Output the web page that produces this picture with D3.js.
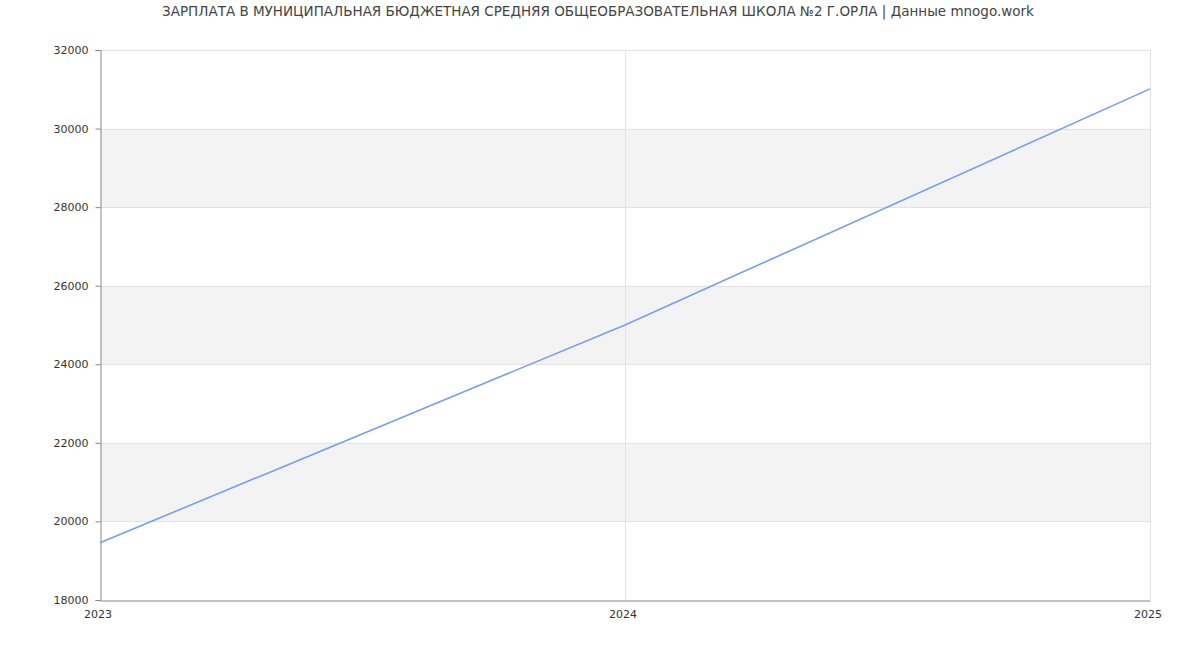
<!DOCTYPE html>
<html>
<head>
<meta charset="utf-8">
<script src="https://cdn.jsdelivr.net/npm/d3@7"></script>
<style>
  body { margin: 0; background: #fff; }
  svg { display: block; font-family: "DejaVu Sans", sans-serif; }
</style>
</head>
<body>
<svg id="chart" width="1200" height="650"></svg>
<script>
const titleText = "ЗАРПЛАТА В МУНИЦИПАЛЬНАЯ БЮДЖЕТНАЯ СРЕДНЯЯ ОБЩЕОБРАЗОВАТЕЛЬНАЯ ШКОЛА №2 Г.ОРЛА | Данные mnogo.work";
const years = [2023, 2024, 2025];
const salaries = [19460, 25000, 31010];
const yTicks = [18000, 20000, 22000, 24000, 26000, 28000, 30000, 32000];
const bands = [[20000, 22000], [24000, 26000], [28000, 30000]];

const svg = d3.select("#chart");
const m = { left: 100, right: 1150, top: 50, bottom: 600 };

const x = d3.scaleLinear().domain([2023, 2025]).range([m.left, m.right]);
const y = d3.scaleLinear().domain([18000, 32000]).range([m.bottom, m.top]);

svg.append("text")
  .attr("x", 598).attr("y", 16)
  .attr("text-anchor", "middle")
  .attr("font-size", 13.5)
  .attr("fill", "#444")
  .text(titleText);

// bands
svg.append("g").selectAll("rect").data(bands).join("rect")
  .attr("x", m.left).attr("width", m.right - m.left)
  .attr("y", d => y(d[1])).attr("height", d => y(d[0]) - y(d[1]))
  .attr("fill", "#f3f3f3");

// horizontal grid
svg.append("g").selectAll("line").data(yTicks.filter(t => t > 18000)).join("line")
  .attr("x1", m.left).attr("x2", m.right)
  .attr("y1", d => Math.round(y(d)) + 0.5).attr("y2", d => Math.round(y(d)) + 0.5)
  .attr("stroke", "#e3e3e3").attr("stroke-width", 1);

// vertical grid
svg.append("g").selectAll("line").data(years.slice(1)).join("line")
  .attr("x1", d => Math.round(x(d)) + 0.5).attr("x2", d => Math.round(x(d)) + 0.5)
  .attr("y1", m.top).attr("y2", m.bottom)
  .attr("stroke", "#e3e3e3").attr("stroke-width", 1);

// y axis
const yAxis = d3.axisLeft(y).tickValues(yTicks).tickSize(5).tickPadding(7).tickFormat(d3.format("d"));
const gy = svg.append("g").attr("transform", `translate(${m.left + 0.5},0)`).call(yAxis);
gy.select(".domain").attr("stroke", "#888");
gy.selectAll(".tick line").attr("stroke", "#888");
gy.selectAll(".tick text").attr("fill", "#333").attr("font-size", 11).attr("font-family", "DejaVu Sans, sans-serif");

// x axis
const xAxis = d3.axisBottom(x).tickValues(years).tickSize(0).tickPadding(10).tickFormat(d3.format("d"));
const gx = svg.append("g").attr("transform", `translate(0,${m.bottom + 0.5})`).call(xAxis);
gx.select(".domain").attr("stroke", "#888");
gx.selectAll(".tick text").attr("fill", "#333").attr("font-size", 11).attr("font-family", "DejaVu Sans, sans-serif");
gx.selectAll(".tick").attr("transform", d => `translate(${x(d) - 2},0)`);

// line
const line = d3.line().x((d, i) => x(years[i])).y(d => y(d));
svg.append("path").datum(salaries)
  .attr("d", line)
  .attr("fill", "none")
  .attr("stroke", "#779ef0")
  .attr("stroke-width", 1.6);
</script>
</body>
</html>
